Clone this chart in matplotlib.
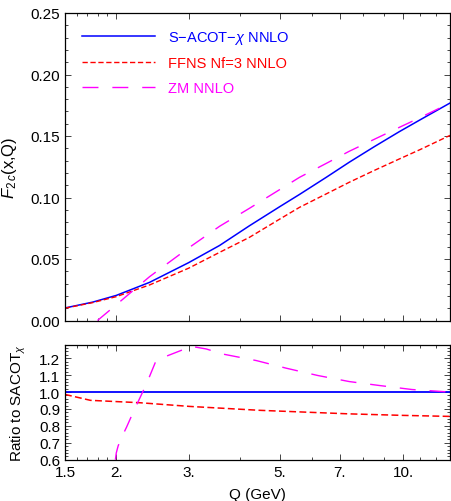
import matplotlib
matplotlib.use("Agg")
import matplotlib.pyplot as plt
from matplotlib.ticker import FixedLocator, FixedFormatter, MultipleLocator
import numpy as np

plt.rcParams['font.family'] = ['Liberation Sans', 'DejaVu Sans']
plt.rcParams['mathtext.fontset'] = 'custom'
plt.rcParams['mathtext.rm'] = 'Liberation Sans'
plt.rcParams['mathtext.it'] = 'Liberation Sans:italic'

# --- data ---
q_top = [1.5, 1.75, 2.0, 2.41, 3.0, 3.57, 4.22, 5.0, 5.59, 6.5, 7.39, 8.5, 9.78, 11.0, 13.0]
f2c_sacot = [0.0102, 0.0149, 0.0204, 0.031, 0.047, 0.061, 0.077, 0.0925, 0.1025, 0.1165,
             0.1287, 0.1413, 0.1535, 0.1632, 0.1768]
f2c_ffns = [0.0100, 0.0145, 0.0194, 0.0289, 0.0425, 0.0554, 0.0676, 0.0824, 0.092, 0.103,
            0.1124, 0.122, 0.1313, 0.139, 0.1505]

q_zm = [1.8, 2.0, 2.41, 3.0, 3.57, 4.22, 5.0, 5.59, 6.5, 7.39, 8.5, 9.78, 11.0, 13.0]
f2c_zm = [0.0, 0.0128, 0.0356, 0.059, 0.0766, 0.0912, 0.1064, 0.1164, 0.1278, 0.1376,
          0.1473, 0.157, 0.165, 0.1768]

q_ratio_sacot = [1.5, 13.0]
ratio_sacot = [1.0, 1.0]
q_ratio_ffns = [1.5, 1.73, 2.28, 3.02, 4.47, 7.39, 10.0, 13.0]
ratio_ffns = [0.986, 0.951, 0.937, 0.915, 0.892, 0.871, 0.862, 0.856]
q_ratio_zm = [1.99, 2.0, 2.02, 2.05, 2.12, 2.2, 2.37, 2.5, 2.61, 2.8, 3.05, 3.31, 3.63,
              4.39, 5.19, 6.19, 7.39, 8.73, 10.5, 13.0]
ratio_zm = [0.6, 0.64, 0.68, 0.72, 0.794, 0.882, 1.049, 1.186, 1.206, 1.235, 1.27, 1.255,
            1.225, 1.186, 1.141, 1.098, 1.062, 1.039, 1.015, 1.0]

labels = ['S\u2212ACOT\u2212$\\chi$ NNLO', 'FFNS Nf=3 NNLO', 'ZM NNLO']
colors = ['#0000ff', '#ff0000', '#ff00ff']

major_q = [1.5, 2, 3, 5, 7, 10]
major_q_labels = ['1.5', '2.', '3.', '5.', '7.', '10.']
minor_q = [1.6, 1.7, 1.8, 1.9, 4, 6, 8, 9, 11, 12]

W, H = 451, 502
fig = plt.figure(figsize=(W / 100, H / 100), dpi=100)
ax1 = fig.add_axes([65 / W, 1 - 321.5 / H, 385 / W, 307.5 / H])
ax2 = fig.add_axes([65 / W, 1 - 460.7 / H, 385 / W, 115 / H])

short_dash = (0, (3.8, 1.9))
long_dash = (0, (11.5, 10.0))

ax1.plot(q_top, f2c_sacot, color=colors[0], lw=1.1, label=labels[0])
ax1.plot(q_top, f2c_ffns, color=colors[1], lw=1.0, linestyle=short_dash, label=labels[1])
ax1.plot(q_zm, f2c_zm, color=colors[2], lw=1.0, linestyle=long_dash, label=labels[2])

ax2.plot(q_ratio_sacot, ratio_sacot, color=colors[0], lw=1.3)
ax2.plot(q_ratio_ffns, ratio_ffns, color=colors[1], lw=1.1, linestyle=(0, (4.5, 2.2)))
ax2.plot(q_ratio_zm, ratio_zm, color=colors[2], lw=1.0, linestyle=long_dash)

for ax in (ax1, ax2):
    ax.set_xscale('log')
    ax.set_xlim(1.5, 13.0)
    ax.xaxis.set_major_locator(FixedLocator(major_q))
    ax.xaxis.set_minor_locator(FixedLocator(minor_q))
    ax.xaxis.set_minor_formatter(FixedFormatter([''] * len(minor_q)))
    ax.tick_params(which='both', direction='in', top=True, right=True, labelsize=11,
                   width=0.7, color='#444444')
    ax.tick_params(which='major', length=4.5)
    ax.tick_params(which='minor', length=2.5)
    for s in ax.spines.values():
        s.set_linewidth(0.9)

ax1.xaxis.set_major_formatter(FixedFormatter([''] * len(major_q)))
ax2.xaxis.set_major_formatter(FixedFormatter(major_q_labels))

ax1.set_ylim(0, 0.25)
ax1.yaxis.set_major_locator(MultipleLocator(0.05))
ax1.yaxis.set_minor_locator(MultipleLocator(0.01))
ax1.yaxis.set_major_formatter(plt.FuncFormatter(lambda v, p: f'{v:.2f}'))

ax2.set_ylim(0.6, 1.28)
ax2.yaxis.set_major_locator(MultipleLocator(0.1))
ax2.yaxis.set_minor_locator(MultipleLocator(0.02))
ax2.yaxis.set_major_formatter(plt.FuncFormatter(lambda v, p: f'{v:.1f}'))

ax1.set_ylabel('$F_{2\\,c}$(x,Q)', fontsize=12)
ax1.yaxis.set_label_coords(-0.12, 0.5)
ax2.set_ylabel('Ratio to SACOT$_{\\chi}$', fontsize=11)
ax2.yaxis.set_label_coords(-0.095, 0.5)
ax2.set_xlabel('Q (GeV)', fontsize=11, labelpad=6)

leg = ax1.legend(loc='upper left', bbox_to_anchor=(17 / 385, 1 - 16 / 307.5),
                 frameon=False, fontsize=10.5, handlelength=5.0, handletextpad=0.9,
                 labelspacing=0.72, borderpad=0, borderaxespad=0, labelcolor='linecolor')

fig.savefig('out.png', dpi=100)
